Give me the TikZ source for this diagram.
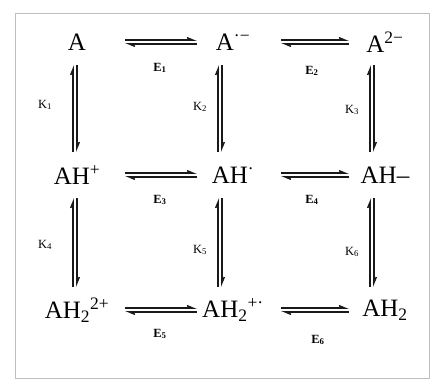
\documentclass[tikz,border=0pt]{standalone}
\usepackage{fontspec}
\setmainfont{Liberation Serif}
\usetikzlibrary{arrows.meta}

\begin{document}
\begin{tikzpicture}[
      x=1pt,y=-1pt,
      every node/.style={font=\fontsize{25}{28}\selectfont},
      spec/.style={minimum width=72pt,minimum height=46pt,inner sep=0pt},
      klab/.style={font=\fontsize{12.5}{14}\selectfont},
      elab/.style={font=\fontsize{12.5}{14}\selectfont\bfseries},
      harp/.style={draw=black!90,line width=1.5pt,-{Straight Barb[left,length=6pt,width=5pt]}},
      fwd/.style={harp,shorten <=12pt,transform canvas={yshift=1.8pt}},
      bwd/.style={harp,shorten >=12pt,transform canvas={yshift=-1.8pt}},
      up/.style={harp,transform canvas={xshift=-1.8pt}},
      down/.style={harp,transform canvas={xshift=1.8pt}}
    ]
    \useasboundingbox (0,0) rectangle (432,381);
    % frame
    \draw[black!25,line width=1pt] (15,13) rectangle (429,378);
    % species
    \node[spec] (A) at (77,42) {A};
    \node[spec] (Am) at (233,42) {A\textsuperscript{·−}};
    \node[spec] (Add) at (385,42) {A\textsuperscript{2−}};
    \node[spec] (AHp) at (77,175) {AH\textsuperscript{+}};
    \node[spec] (AHr) at (233,175) {AH\textsuperscript{·}};
    \node[spec] (AHm) at (385,175) {AH–};
    \node[spec] (AHpp) at (77,310) {AH\textsubscript{2}\textsuperscript{2+}};
    \node[spec] (AHrp) at (233,310) {AH\textsubscript{2}\textsuperscript{+·}};
    \node[spec] (AHh) at (385,310) {AH\textsubscript{2}};
    % electron transfers
    \draw[fwd] (A) -- (Am);   \draw[bwd] (Am) -- (A);
    \draw[fwd] (Am) -- (Add); \draw[bwd] (Add) -- (Am);
    \draw[fwd] (AHp) -- (AHr); \draw[bwd] (AHr) -- (AHp);
    \draw[fwd] (AHr) -- (AHm); \draw[bwd] (AHm) -- (AHr);
    \draw[fwd] (AHpp) -- (AHrp); \draw[bwd] (AHrp) -- (AHpp);
    \draw[fwd] (AHrp) -- (AHh); \draw[bwd] (AHh) -- (AHrp);
    \node[elab] (E1) at (160,68) {E\textsubscript{1}};
    \node[elab] (E2) at (312,71) {E\textsubscript{2}};
    \node[elab] (E3) at (160,200) {E\textsubscript{3}};
    \node[elab] (E4) at (312,200) {E\textsubscript{4}};
    \node[elab] (E5) at (160,334) {E\textsubscript{5}};
    \node[elab] (E6) at (318,340) {E\textsubscript{6}};
    % proton transfers
    \draw[up] ([xshift=-2pt]AHp.north) -- ([xshift=-2pt]A.south);
    \draw[down] ([xshift=-2pt]A.south) -- ([xshift=-2pt]AHp.north);
    \draw[up] ([xshift=-13pt]AHr.north) -- ([xshift=-13pt]Am.south);
    \draw[down] ([xshift=-13pt]Am.south) -- ([xshift=-13pt]AHr.north);
    \draw[up] ([xshift=-13pt]AHm.north) -- ([xshift=-13pt]Add.south);
    \draw[down] ([xshift=-13pt]Add.south) -- ([xshift=-13pt]AHm.north);
    \draw[up] ([xshift=-2pt]AHpp.north) -- ([xshift=-2pt]AHp.south);
    \draw[down] ([xshift=-2pt]AHp.south) -- ([xshift=-2pt]AHpp.north);
    \draw[up] ([xshift=-13pt]AHrp.north) -- ([xshift=-13pt]AHr.south);
    \draw[down] ([xshift=-13pt]AHr.south) -- ([xshift=-13pt]AHrp.north);
    \draw[up] ([xshift=-13pt]AHh.north) -- ([xshift=-13pt]AHm.south);
    \draw[down] ([xshift=-13pt]AHm.south) -- ([xshift=-13pt]AHh.north);
    \node[klab] (K1) at (45,105) {K\textsubscript{1}};
    \node[klab] (K2) at (200,107) {K\textsubscript{2}};
    \node[klab] (K3) at (352,110) {K\textsubscript{3}};
    \node[klab] (K4) at (45,245) {K\textsubscript{4}};
    \node[klab] (K5) at (200,250) {K\textsubscript{5}};
    \node[klab] (K6) at (352,252) {K\textsubscript{6}};
  \end{tikzpicture}
\end{document}
